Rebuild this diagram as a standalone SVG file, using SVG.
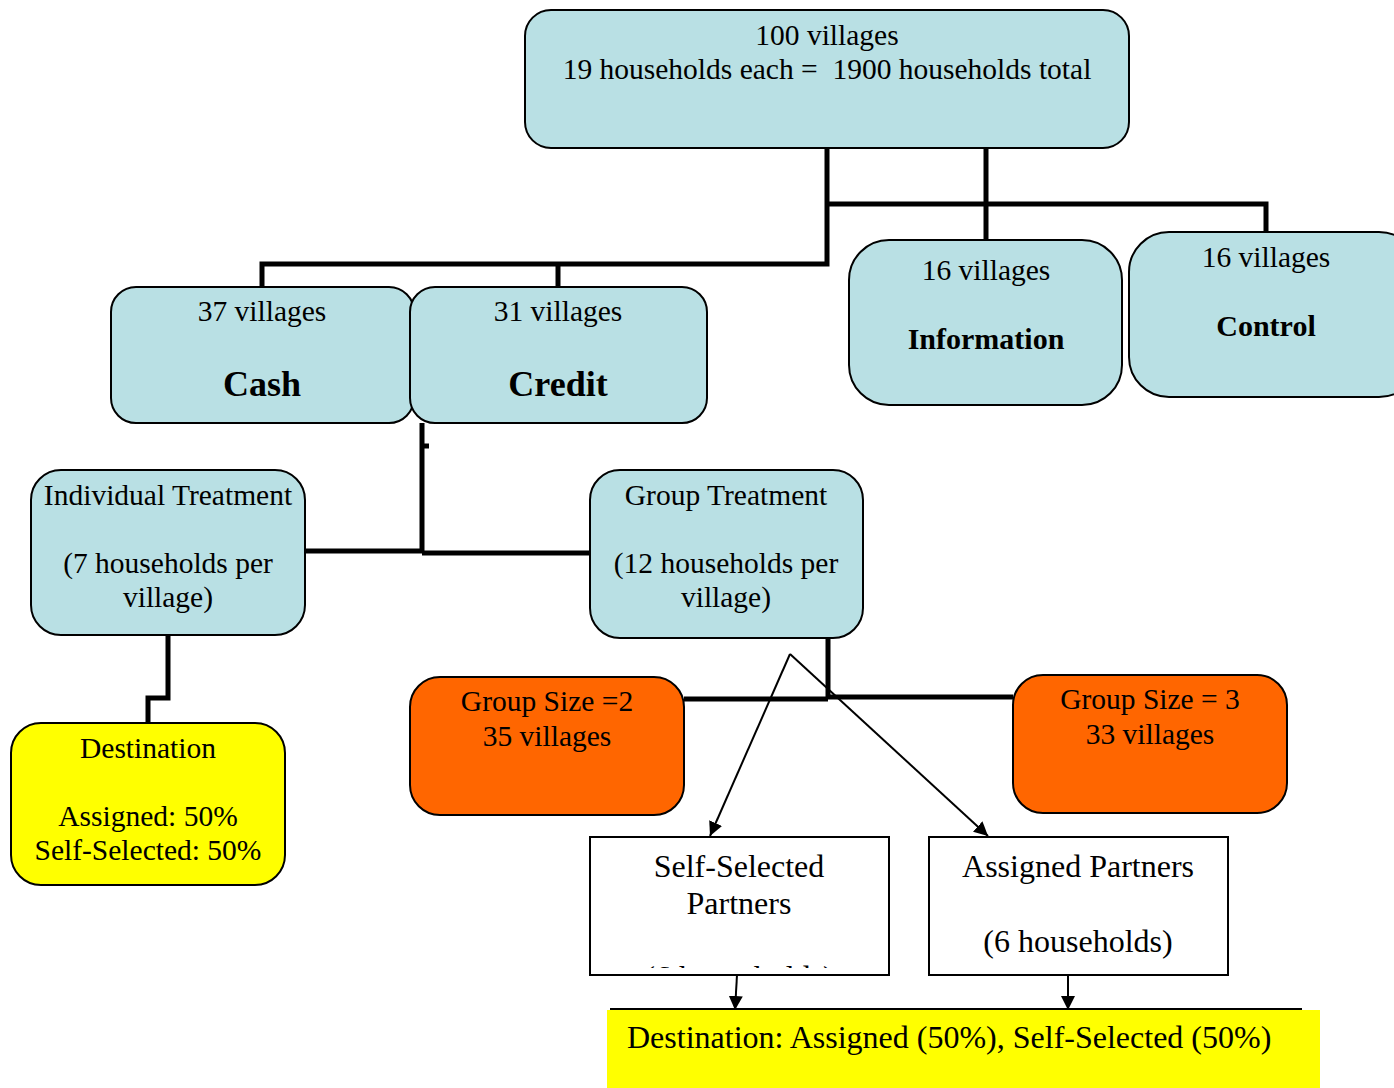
<svg xmlns="http://www.w3.org/2000/svg" width="1394" height="1088" viewBox="0 0 1394 1088">
<defs>
<style>
.t{font-family:"Liberation Serif","Times New Roman",serif;font-size:29.5px;fill:#000;text-anchor:middle}
.big{font-size:32px}
.b{font-weight:bold;font-size:30px}
.bb{font-weight:bold;font-size:36px}
.blue{fill:#b9e0e4;stroke:#000;stroke-width:2}
.org{fill:#ff6600;stroke:#000;stroke-width:2}
.yel{fill:#ffff00;stroke:#000;stroke-width:2}
.wht{fill:#fff;stroke:#000;stroke-width:2}
.thick{fill:none;stroke:#000;stroke-width:5}
.thin{fill:none;stroke:#000;stroke-width:2;marker-end:url(#ah)}
</style>
<marker id="ah" viewBox="0 0 10 10" refX="10" refY="5" markerWidth="14" markerHeight="14" orient="auto" markerUnits="userSpaceOnUse">
<path d="M0,0 L10,5 L0,10 z" fill="#000"/>
</marker>
<clipPath id="clipSS"><rect x="590" y="837" width="299" height="131"/></clipPath>
</defs>
<rect width="1394" height="1088" fill="#fff"/>

<g id="connectors">
<path class="thick" d="M827,148 V264 H262 V287"/>
<path class="thick" d="M558,264 V287"/>
<path class="thick" d="M986,148 V240"/>
<path class="thick" d="M827,204 H1266 V232"/>
<path class="thick" d="M422,423 V553"/>
<path class="thick" d="M422,446 H429"/>
<path class="thick" d="M305,551 H422"/>
<path class="thick" d="M422,553 H590"/>
<path class="thick" d="M168,635 V698 H148 V723"/>
<path class="thick" d="M828,638 V699"/>
<path class="thick" d="M684,699 H828"/>
<path class="thick" d="M828,697 H1013"/>
<path class="thin" d="M790,654 L710,836"/>
<path class="thin" d="M790,654 L988,836"/>
<path class="thin" d="M737,975 L735,1010"/>
<path class="thin" d="M1068,975 V1010"/>
</g>

<g id="top">
<rect class="blue" x="525" y="10" width="604" height="138" rx="26"/>
<text class="t" x="827" y="45">100 villages</text>
<text class="t" x="827" y="79" xml:space="preserve">19 households each =  1900 households total</text>
</g>

<g id="cash">
<rect class="blue" x="111" y="287" width="303" height="136" rx="25"/>
<text class="t" x="262" y="321">37 villages</text>
<text class="t bb" x="262" y="396">Cash</text>
</g>

<g id="credit">
<rect class="blue" x="410" y="287" width="297" height="136" rx="25"/>
<text class="t" x="558" y="321">31 villages</text>
<text class="t bb" x="558" y="396">Credit</text>
</g>

<g id="information">
<rect class="blue" x="849" y="240" width="273" height="165" rx="40"/>
<text class="t" x="986" y="280">16 villages</text>
<text class="t b" x="986" y="349">Information</text>
</g>

<g id="control">
<rect class="blue" x="1129" y="232" width="290" height="165" rx="40"/>
<text class="t" x="1266" y="267">16 villages</text>
<text class="t b" x="1266" y="336">Control</text>
</g>

<g id="individual">
<rect class="blue" x="31" y="470" width="274" height="165" rx="30"/>
<text class="t" x="168" y="505">Individual Treatment</text>
<text class="t" x="168" y="573">(7 households per</text>
<text class="t" x="168" y="607">village)</text>
</g>

<g id="group">
<rect class="blue" x="590" y="470" width="273" height="168" rx="30"/>
<text class="t" x="726" y="505">Group Treatment</text>
<text class="t" x="726" y="573">(12 households per</text>
<text class="t" x="726" y="607">village)</text>
</g>

<g id="destination">
<rect class="yel" x="11" y="723" width="274" height="162" rx="30"/>
<text class="t" x="148" y="758">Destination</text>
<text class="t" x="148" y="826">Assigned: 50%</text>
<text class="t" x="148" y="860">Self-Selected: 50%</text>
</g>

<g id="gs2">
<rect class="org" x="410" y="677" width="274" height="138" rx="30"/>
<text class="t" x="547" y="711">Group Size =2</text>
<text class="t" x="547" y="746">35 villages</text>
</g>

<g id="gs3">
<rect class="org" x="1013" y="675" width="274" height="138" rx="30"/>
<text class="t" x="1150" y="709">Group Size = 3</text>
<text class="t" x="1150" y="744">33 villages</text>
</g>

<g id="selfselected">
<rect class="wht" x="590" y="837" width="299" height="138"/>
<text class="t big" x="739" y="877">Self-Selected</text>
<text class="t big" x="739" y="914">Partners</text>
<text class="t big" x="739" y="988" clip-path="url(#clipSS)">(6 households)</text>
</g>

<g id="assigned">
<rect class="wht" x="929" y="837" width="299" height="138"/>
<text class="t big" x="1078" y="877">Assigned Partners</text>
<text class="t big" x="1078" y="952">(6 households)</text>
</g>

<g id="destination2">
<line x1="610" y1="1009" x2="1302" y2="1009" stroke="#000" stroke-width="2"/>
<rect x="607" y="1010" width="713" height="78" fill="#ffff00"/>
<text class="t big" x="627" y="1048" style="text-anchor:start">Destination: Assigned (50%), Self-Selected (50%)</text>
</g>
</svg>
